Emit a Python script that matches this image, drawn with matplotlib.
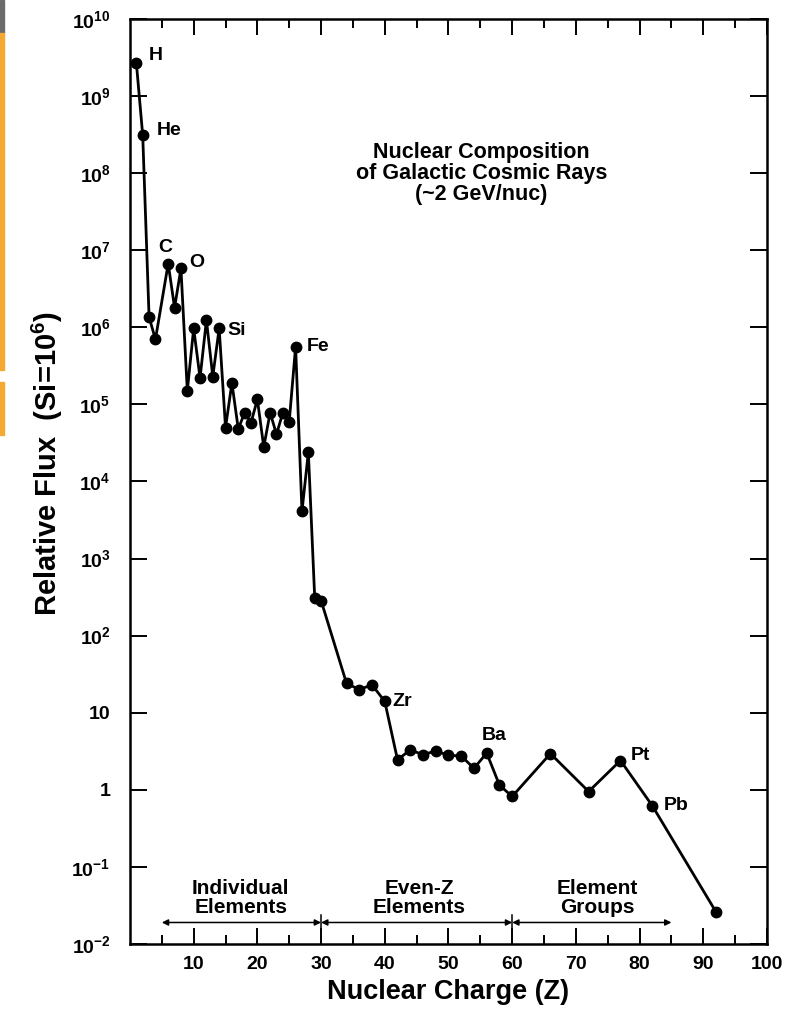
import matplotlib
matplotlib.use("Agg")
import math
import matplotlib.pyplot as plt
from matplotlib.patches import Rectangle
from matplotlib.ticker import FixedLocator, FuncFormatter

plt.rcParams['font.family'] = ['Liberation Sans', 'DejaVu Sans']
plt.rcParams['font.weight'] = 'bold'
plt.rcParams['axes.labelweight'] = 'bold'
plt.rcParams['mathtext.fontset'] = 'custom'
plt.rcParams['mathtext.rm'] = 'Liberation Sans:bold'
plt.rcParams['mathtext.bf'] = 'Liberation Sans:bold'
plt.rcParams['mathtext.it'] = 'Liberation Sans:bold'

# nuclear charge and relative flux (Si = 1e6)
charge = [1, 2, 3, 4, 6, 7, 8, 9, 10, 11, 12, 13, 14, 15, 16, 17, 18, 19, 20,
          21, 22, 23, 24, 25, 26, 27, 28, 29, 30, 34, 36, 38, 40, 42, 44, 46,
          48, 50, 52, 54, 56, 58, 60, 66, 72, 77, 82, 92]
flux = [2.7e9, 3.1e8, 1.35e6, 7.0e5, 6.7e6, 1.8e6, 5.8e6, 1.5e5, 9.7e5, 2.2e5,
        1.24e6, 2.3e5, 9.7e5, 5.0e4, 1.9e5, 4.8e4, 7.8e4, 5.8e4, 1.16e5, 2.8e4,
        7.8e4, 4.1e4, 7.8e4, 6.0e4, 5.6e5, 4.1e3, 2.4e4, 310, 285, 24, 20, 23,
        14, 2.45, 3.3, 2.85, 3.2, 2.8, 2.75, 1.9, 3.0, 1.15, 0.82, 2.95, 0.95,
        2.4, 0.62, 0.026]

# labelled elements: (name, charge, offset in pixels, alignment)
labels = [("H", 1, (12, 7), 'left'), ("He", 2, (14, 5), 'left'),
          ("C", 6, (-10, 16), 'left'), ("O", 8, (8, 6), 'left'),
          ("Si", 14, (8, -2), 'left'), ("Fe", 26, (11, 0), 'left'),
          ("Zr", 40, (8, 0), 'left'), ("Ba", 56, (7, 18), 'center'),
          ("Pt", 77, (10, 5), 'left'), ("Pb", 82, (11, 0), 'left')]

# composition ranges along the bottom
ranges = [("Individual\nElements", 5, 30, 17.4),
          ("Even-Z\nElements", 30, 60, 45.4),
          ("Element\nGroups", 60, 85, 73.3)]
range_y = 0.019

fig = plt.figure(figsize=(7.94, 10.11), dpi=100)
ax = fig.add_axes([0.1637, 0.0663, 0.8023, 0.9149])

ax.plot(charge, flux, color='black', lw=2.0, marker='o', ms=7.5,
        markerfacecolor='black', markeredgecolor='black')

for name, z, off, ha in labels:
    ax.annotate(name, (z, flux[charge.index(z)]), xytext=off,
                textcoords='offset pixels', ha=ha, va='center', fontsize=14)

ax.text(55.2, 10**8.0, "Nuclear Composition\nof Galactic Cosmic Rays\n(~2 GeV/nuc)",
        ha='center', va='center', fontsize=15.5, linespacing=1.0)

for text, x0, x1, xc in ranges:
    ax.annotate("", xy=(x0, range_y), xytext=(x1, range_y),
                arrowprops=dict(arrowstyle='<|-|>', color='black', lw=1.1,
                                mutation_scale=9, shrinkA=0, shrinkB=0))
    ax.text(xc, 10**-1.40, text, ha='center', va='center', fontsize=15,
            linespacing=1.0)
for xb in [30, 60]:
    ax.plot([xb, xb], [10**-1.62, 10**-1.8], color='black', lw=1.1)

ax.set_yscale('log')
ax.set_xlim(0, 100)
ax.set_ylim(1e-2, 1e10)

ax.xaxis.set_major_locator(FixedLocator([10, 20, 30, 40, 50, 60, 70, 80, 90, 100]))
ax.xaxis.set_minor_locator(FixedLocator([5, 15, 25, 35, 45, 55, 65, 75, 85, 95]))
decades = [10.0 ** n for n in range(-2, 11)]
ax.yaxis.set_major_locator(FixedLocator(decades))
ax.yaxis.set_minor_locator(FixedLocator([]))


def ylab(v, pos):
    n = int(round(math.log10(v)))
    if n == 0:
        return "1"
    if n == 1:
        return "10"
    return r"$\mathbf{10^{%d}}$" % n


ax.yaxis.set_major_formatter(FuncFormatter(ylab))

ax.tick_params(which='both', direction='in', top=True, right=True, width=1.4,
               labelsize=14)
ax.tick_params(which='major', axis='x', length=11.5, pad=9)
ax.tick_params(which='minor', axis='x', length=6.5)
ax.tick_params(which='major', axis='y', length=12, pad=14)
for s in ax.spines.values():
    s.set_linewidth(1.8)

ax.set_xlabel("Nuclear Charge (Z)", fontsize=19.5, labelpad=4)
ax.set_ylabel(r"Relative Flux  (Si=10$^{6}$)", fontsize=21)
ax.yaxis.set_label_coords(-0.102, 0.52)

# slide edge strip on the left
fig.patches.append(Rectangle((0, 1 - 33 / 1011), 4 / 794, 33 / 1011,
                             transform=fig.transFigure, color='#6b6b6b', zorder=0))
fig.patches.append(Rectangle((0, 1 - 370 / 1011), 4 / 794, 337 / 1011,
                             transform=fig.transFigure, color='#f4a933', zorder=0))
fig.patches.append(Rectangle((0, 1 - 435 / 1011), 4 / 794, 53 / 1011,
                             transform=fig.transFigure, color='#f4a933', zorder=0))

fig.savefig("out.png", dpi=100)
